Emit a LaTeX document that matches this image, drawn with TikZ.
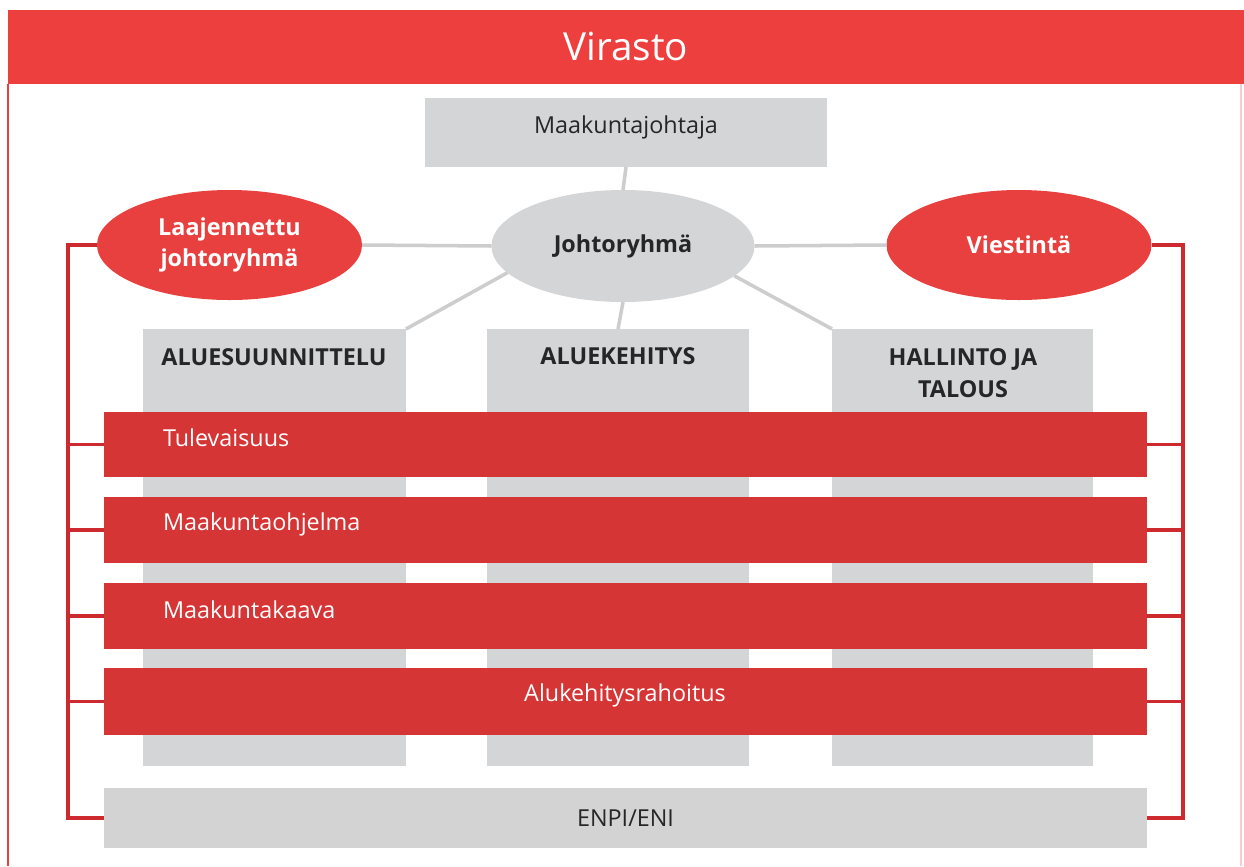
\documentclass[tikz,border=0pt]{standalone}
\usepackage{fontspec}
\setmainfont{Open Sans}
\usetikzlibrary{shapes.geometric}
\definecolor{headred}{HTML}{EE3F3F}
\definecolor{ellred}{HTML}{E8403F}
\definecolor{barred}{HTML}{D63535}
\definecolor{brkred}{HTML}{CC2A2F}
\definecolor{boxgray}{HTML}{D4D5D7}
\definecolor{enpigray}{HTML}{D3D3D3}
\definecolor{linegray}{HTML}{CDCDCD}
\definecolor{txtdark}{HTML}{262626}
\definecolor{framepink}{HTML}{F3CFCF}
\begin{document}
\begin{tikzpicture}[x=0.02cm,y=-0.02cm,
  every node/.style={inner sep=0pt,outer sep=0pt},
  fs/.style={font=\fontsize{13.3pt}{17.5pt}\selectfont},
  boxg/.style={fill=boxgray,draw=none,rectangle},
  barr/.style={fill=barred,draw=none,rectangle,minimum width=1043*0.02cm,minimum height=66*0.02cm},
  ellr/.style={ellipse,fill=ellred,draw=none,minimum width=265*0.02cm,minimum height=110*0.02cm,
     fs,text=white,font=\fontsize{13.3pt}{17.5pt}\selectfont\bfseries,align=center},
  coltitle/.style={fs,font=\fontsize{13.3pt}{18.5pt}\selectfont\bfseries,text=txtdark,align=center},
  bartext/.style={fs,text=white,anchor=west},
  gline/.style={draw=linegray,line width=2pt},
  rline/.style={draw=brkred,line width=2.2pt},
]
\useasboundingbox (0,0) rectangle (1244,866);
\fill[white] (0,0) rectangle (1244,866);

% frame and header
\draw[headred,line width=0.9pt] (8,84) -- (8,866);
\draw[framepink,line width=0.9pt] (1241,84) -- (1241,866);
\node[rectangle,fill=headred,minimum width=1236*0.02cm,minimum height=74*0.02cm,
      text=white,font=\fontsize{22pt}{26pt}\selectfont] (head) at (626,47) {Virasto};

% columns
\node[boxg,minimum width=263*0.02cm,minimum height=437*0.02cm] (c1) at (274.5,547.5) {};
\node[boxg,minimum width=262*0.02cm,minimum height=437*0.02cm] (c2) at (618,547.5) {};
\node[boxg,minimum width=261*0.02cm,minimum height=437*0.02cm] (c3) at (962.5,547.5) {};
\node[coltitle] (t1) at (274,357) {ALUESUUNNITTELU};
\node[coltitle] (t2) at (618,356) {ALUEKEHITYS};
\node[coltitle] (t3) at (963,373) {HALLINTO JA\\TALOUS};

% red bars
\node[barr,minimum height=65*0.02cm] (b1) at (625.5,444.5) {};
\node[barr] (b2) at (625.5,530) {};
\node[barr] (b3) at (625.5,616) {};
\node[barr,minimum height=67*0.02cm] (b4) at (625.5,701.5) {};
\node[bartext] (bt1) at (163,438) {Tulevaisuus};
\node[bartext] (bt2) at (163,524) {Maakuntaohjelma};
\node[bartext] (bt3) at (163,610) {Maakuntakaava};
\node[fs,text=white] (bt4) at (625,695) {Alukehitysrahoitus};

% ENPI
\node[rectangle,fill=enpigray,minimum width=1043*0.02cm,minimum height=60*0.02cm,fs,text=txtdark] (enpi) at (625.5,818) {ENPI/ENI};

% top
\node[boxg,minimum width=402*0.02cm,minimum height=69*0.02cm] (mj) at (626,132.5) {};
\node[fs,text=txtdark] (mjt) at (626,127) {Maakuntajohtaja};

\node[ellipse,fill=boxgray,minimum width=263*0.02cm,minimum height=112*0.02cm,
      font=\fontsize{13.3pt}{17.5pt}\selectfont\bfseries,text=txtdark] (jr) at (623,246) {Johtoryhmä};
\node[ellr] (lj) at (229.5,245) {Laajennettu\\johtoryhmä};
\node[ellr] (vi) at (1019,245) {Viestintä};

% gray connectors
\draw[gline] (mj.south) -- (jr.north);
\draw[gline] (lj.east) -- (jr.west);
\draw[gline] (jr.east) -- (vi.west);
\draw[gline] (jr.193) -- (c1.north east);
\draw[gline] (jr.-15) -- (c3.north west);
\draw[gline] (jr.south) -- (c2.north);

% red brackets
\coordinate (L1) at (68,245);
\coordinate (L2) at (68,818);
\coordinate (R1) at (1183,245);
\coordinate (R2) at (1183,818);
\draw[rline] (lj.west) -- (L1) -- (L2) -- (enpi.west);
\draw[rline] (vi.east) -- (R1) -- (R2) -- (enpi.east);
\foreach \b in {b1,b2,b3,b4}{
  \draw[rline] (\b.west) -- (\b.west -| L1);
  \draw[rline] (\b.east) -- (\b.east -| R1);
}
\end{tikzpicture}
\end{document}
